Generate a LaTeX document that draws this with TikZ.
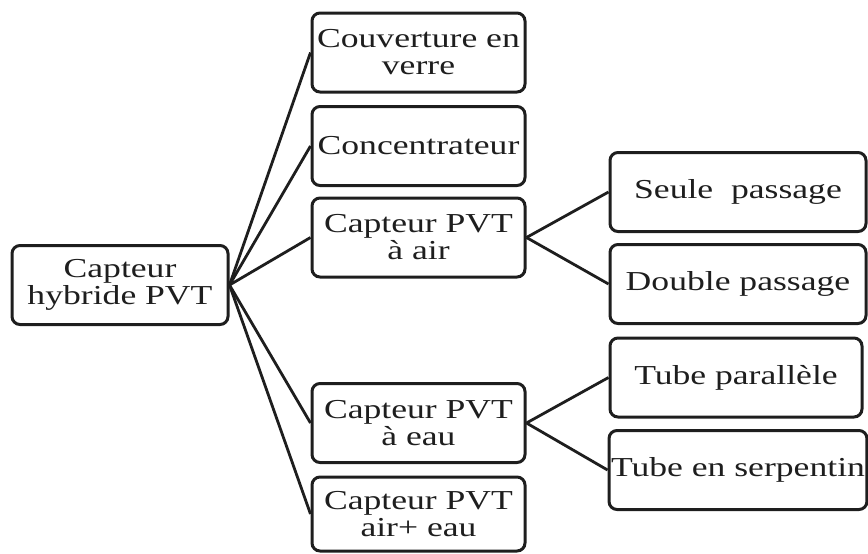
\documentclass[tikz,border=0pt]{standalone}
\usepackage{fontspec}
\setmainfont{Liberation Serif}[FakeStretch=1.3]
\usetikzlibrary{positioning}
\definecolor{Ink}{HTML}{1E1E1E}

\begin{document}
\begin{tikzpicture}[x=0.5pt, y=-0.5pt, every node/.style={font=\fontsize{13.7}{13.5}\selectfont, text=Ink}]
  \tikzstyle{box}=[draw=Ink, line width=1.5pt, fill=white, rounded corners=4pt, minimum height=39.5pt, align=center, inner sep=1pt]
  \tikzstyle{mid}=[box, minimum width=106.5pt]
  \tikzstyle{leaf}=[box, minimum width=128pt]
  \tikzstyle{link}=[draw=Ink, line width=1.4pt]

  \useasboundingbox (0,0) rectangle (868,553);

  \node[box, minimum width=108pt] (root) at (120,285) {Capteur\\hybride PVT};

  \node[mid] (verre) at (418.5,52.5) {Couverture en\\verre};
  \node[mid] (conc) at (418.5,146) {Concentrateur};
  \node[mid] (air) at (418.5,237.5) {Capteur PVT\\à air};
  \node[mid] (eau) at (418.5,423) {Capteur PVT\\à eau};
  \node[mid, minimum height=37pt] (mix) at (418.5,514) {Capteur PVT\\air+ eau};

  \node[leaf] (seule) at (738,192) {Seule~~passage};
  \node[leaf] (double) at (738,284) {Double passage};
  \node[leaf, minimum width=126pt] (para) at (736,377.5) {Tube parallèle};
  \node[leaf] (serp) at (738,470) {Tube en serpentin};

  \draw[link] (root.east) -- (verre.west);
  \draw[link] (root.east) -- (conc.west);
  \draw[link] (root.east) -- (air.west);
  \draw[link] (root.east) -- (eau.west);
  \draw[link] (root.east) -- (mix.west);
  \draw[link] (air.east) -- (seule.west);
  \draw[link] (air.east) -- (double.west);
  \draw[link] (eau.east) -- (para.west);
  \draw[link] (eau.east) -- (serp.west);
\end{tikzpicture}
\end{document}
